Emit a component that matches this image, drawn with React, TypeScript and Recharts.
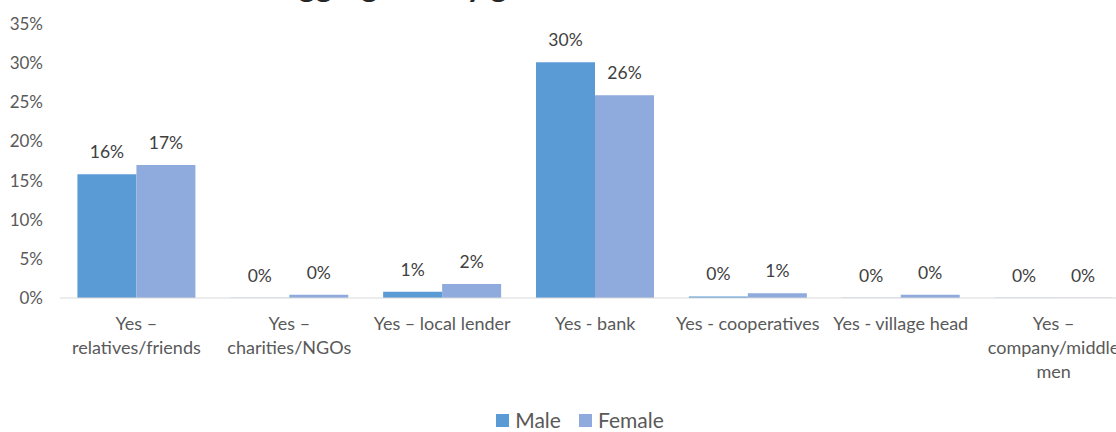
import React from "react";
import { BarChart, Bar, XAxis, YAxis, Legend, LabelList, Customized } from "recharts";

const categories = [
  "Yes – relatives/friends",
  "Yes – charities/NGOs",
  "Yes – local lender",
  "Yes - bank",
  "Yes - cooperatives",
  "Yes - village head",
  "Yes – company/middle men",
];
const categoryLines = [
  ["Yes –", "relatives/friends"],
  ["Yes –", "charities/NGOs"],
  ["Yes – local lender"],
  ["Yes - bank"],
  ["Yes - cooperatives"],
  ["Yes - village head"],
  ["Yes –", "company/middle", "men"],
];
const maleValues = [15.8, 0.04, 0.8, 30.1, 0.2, 0.04, 0.04];
const femaleValues = [17.0, 0.4, 1.8, 25.9, 0.6, 0.4, 0.04];
const yTicks = [0, 5, 10, 15, 20, 25, 30, 35];
const seriesOrder = ["Male", "Female"];
const titlePrefix = "Sources of loans";
const titleMain = "disaggregated by gender";

const data = categories.map((c, i) => ({
  name: c,
  Male: maleValues[i],
  Female: femaleValues[i],
}));

const FONT = "Lato, 'Open Sans', sans-serif";
const MALE = "#5B9BD5";
const FEMALE = "#8FAADC";

const XTick = (props: any) => {
  const { x, payload } = props;
  const lines = categoryLines[payload.index] || [payload.value];
  return (
    <text x={x} y={330} textAnchor="middle" fill="#595959" fontSize={18} fontFamily={FONT}>
      {lines.map((l: string, i: number) => (
        <tspan key={i} x={x} y={330 + i * 24}>
          {l}
        </tspan>
      ))}
    </text>
  );
};

const LegendContent = (props: any) => {
  const payload = [...(props.payload || [])].sort(
    (a: any, b: any) => seriesOrder.indexOf(a.value) - seriesOrder.indexOf(b.value)
  );
  return (
    <div style={{ display: "flex", justifyContent: "center", paddingLeft: 30, fontFamily: FONT, height: 34, alignItems: "center" }}>
      {payload.map((p: any, i: number) => (
        <div key={i} style={{ display: "flex", alignItems: "center", marginRight: i === 0 ? 18 : 0 }}>
          <div style={{ width: 13, height: 13, background: p.color, marginRight: 6 }} />
          <span style={{ color: "#595959", fontSize: 21, lineHeight: "24px" }}>{p.value}</span>
        </div>
      ))}
    </div>
  );
};

const Title = () => (
  <g>
    <text x={236} y={-3} textAnchor="end" fontSize={32} fontWeight="bold" fill="#262626" fontFamily={FONT}>
      {titlePrefix}
    </text>
    <text x={242} y={-3} textAnchor="start" fontSize={32} fontWeight="bold" fill="#262626" fontFamily={FONT}>
      {titleMain}
    </text>
  </g>
);

export default function App() {
  return (
    <div style={{ position: "fixed", left: 0, top: 0, width: 1116, height: 432, overflow: "hidden", background: "#fff" }}>
      <BarChart
        width={1130}
        height={432}
        data={data}
        margin={{ top: 24, right: 0, left: 0, bottom: 0 }}
        barCategoryGap="11.4%"
        barGap={0}
      >
        <Customized component={Title} />
        <XAxis
          dataKey="name"
          tick={<XTick />}
          tickLine={false}
          axisLine={{ stroke: "#D9D9D9" }}
          height={100}
          interval={0}
        />
        <YAxis
          domain={[0, 35]}
          ticks={yTicks}
          tickFormatter={(v: number) => `${v}%`}
          axisLine={false}
          tickLine={false}
          tickMargin={11}
          width={60}
          tick={{ fill: "#595959", fontSize: 17, fontFamily: FONT }}
        />
        <Legend verticalAlign="bottom" content={<LegendContent />} wrapperStyle={{ height: 34, bottom: -5 }} />
        <Bar dataKey="Male" fill={MALE} isAnimationActive={false}>
          <LabelList
            dataKey="Male"
            position="top"
            offset={16}
            formatter={(v: number) => `${Math.round(v)}%`}
            fill="#404040"
            fontSize={17.5}
            fontFamily={FONT}
          />
        </Bar>
        <Bar dataKey="Female" fill={FEMALE} isAnimationActive={false}>
          <LabelList
            dataKey="Female"
            position="top"
            offset={16}
            formatter={(v: number) => `${Math.round(v)}%`}
            fill="#404040"
            fontSize={17.5}
            fontFamily={FONT}
          />
        </Bar>
      </BarChart>
    </div>
  );
}
